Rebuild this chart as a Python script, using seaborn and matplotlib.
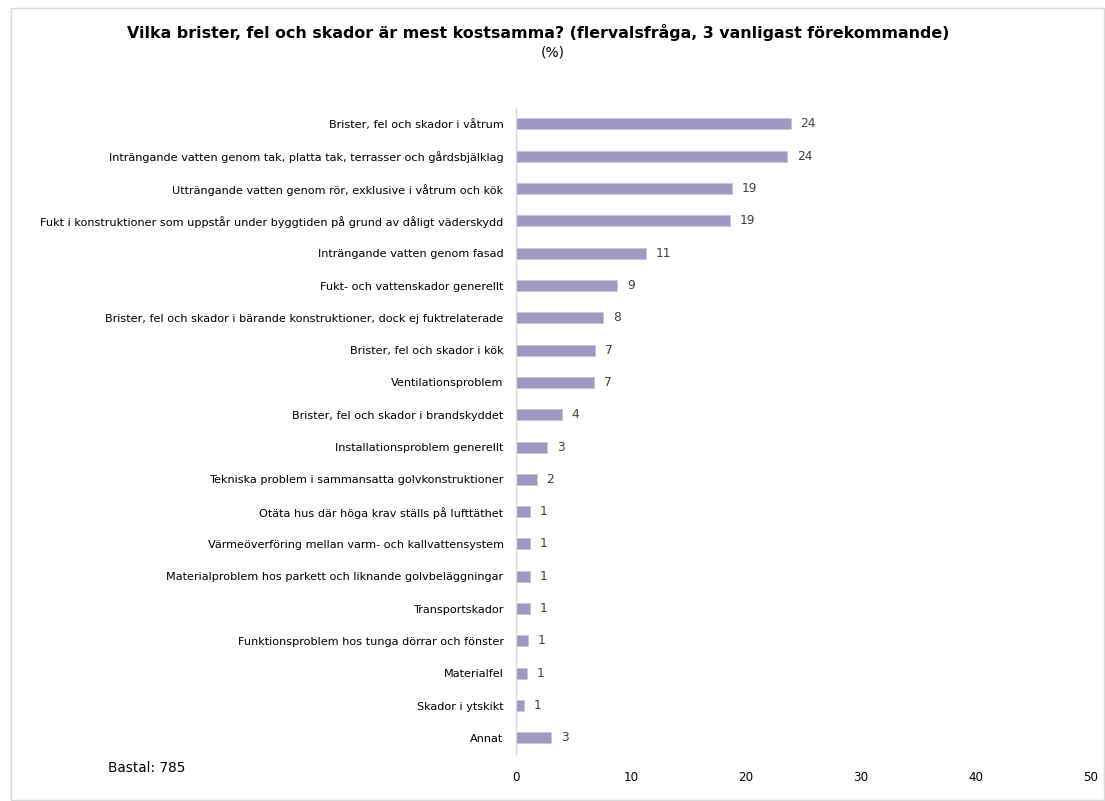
import matplotlib.pyplot as plt
import matplotlib.patches as mpatches
import pandas as pd
import seaborn as sns

categories = [
    'Brister, fel och skador i våtrum',
    'Inträngande vatten genom tak, platta tak, terrasser och gårdsbjälklag',
    'Utträngande vatten genom rör, exklusive i våtrum och kök',
    'Fukt i konstruktioner som uppstår under byggtiden på grund av dåligt väderskydd',
    'Inträngande vatten genom fasad',
    'Fukt- och vattenskador generellt',
    'Brister, fel och skador i bärande konstruktioner, dock ej fuktrelaterade',
    'Brister, fel och skador i kök',
    'Ventilationsproblem',
    'Brister, fel och skador i brandskyddet',
    'Installationsproblem generellt',
    'Tekniska problem i sammansatta golvkonstruktioner',
    'Otäta hus där höga krav ställs på lufttäthet',
    'Värmeöverföring mellan varm- och kallvattensystem',
    'Materialproblem hos parkett och liknande golvbeläggningar',
    'Transportskador',
    'Funktionsproblem hos tunga dörrar och fönster',
    'Materialfel',
    'Skador i ytskikt',
    'Annat',
]
percent = [23.9, 23.6, 18.8, 18.6, 11.3, 8.8, 7.6, 6.9, 6.8, 4.0,
           2.7, 1.8, 1.2, 1.2, 1.2, 1.2, 1.05, 0.95, 0.7, 3.05]
x_ticks = [0, 10, 20, 30, 40, 50]
title = 'Vilka brister, fel och skador är mest kostsamma? (flervalsfråga, 3 vanligast förekommande)'
subtitle = '(%)'
base_note = 'Bastal: 785'

df = pd.DataFrame({'Kategori': categories, 'Procent': percent})

sns.set_style('white')
plt.rcParams['font.family'] = ['DejaVu Sans']
plt.rcParams['text.color'] = 'black'

fig = plt.figure(figsize=(11.05, 8.01), dpi=100)
ax = fig.add_axes([0.467, 0.0587, 0.5197, 0.8067])

sns.barplot(data=df, y='Kategori', x='Procent', orient='h', color='#9e98c3',
            width=0.34, edgecolor='#c9c5de', linewidth=0.6, saturation=1, ax=ax)

ax.bar_label(ax.containers[0], fmt='%.0f', padding=7, fontsize=8.8, color='#404040')

ax.set_xlim(0, 50)
ax.set_ylim(len(categories) - 0.5, -0.5)
ax.set_xticks(x_ticks)
ax.set_xlabel('')
ax.set_ylabel('')
ax.tick_params(axis='y', length=0, pad=9, labelsize=8.08, colors='black')
ax.tick_params(axis='x', length=0, pad=12, labelsize=8.6, colors='black')
for side in ['top', 'right', 'bottom']:
    ax.spines[side].set_visible(False)
ax.spines['left'].set_color('#d9d9d9')
ax.spines['left'].set_linewidth(1)

fig.text(0.487, 0.96, title, ha='center', va='center', fontsize=11.4,
         fontweight='bold', color='black')
fig.text(0.5, 0.935, subtitle, ha='center', va='center', fontsize=10, color='black')
fig.text(0.098, 0.041, base_note, ha='left', va='center', fontsize=9.8, color='black')

border = mpatches.Rectangle((0.01, 0.001), 0.989, 0.989, transform=fig.transFigure,
                            fill=False, edgecolor='#d9d9d9', linewidth=1)
fig.patches.append(border)

fig.savefig('out.png', dpi=100)
